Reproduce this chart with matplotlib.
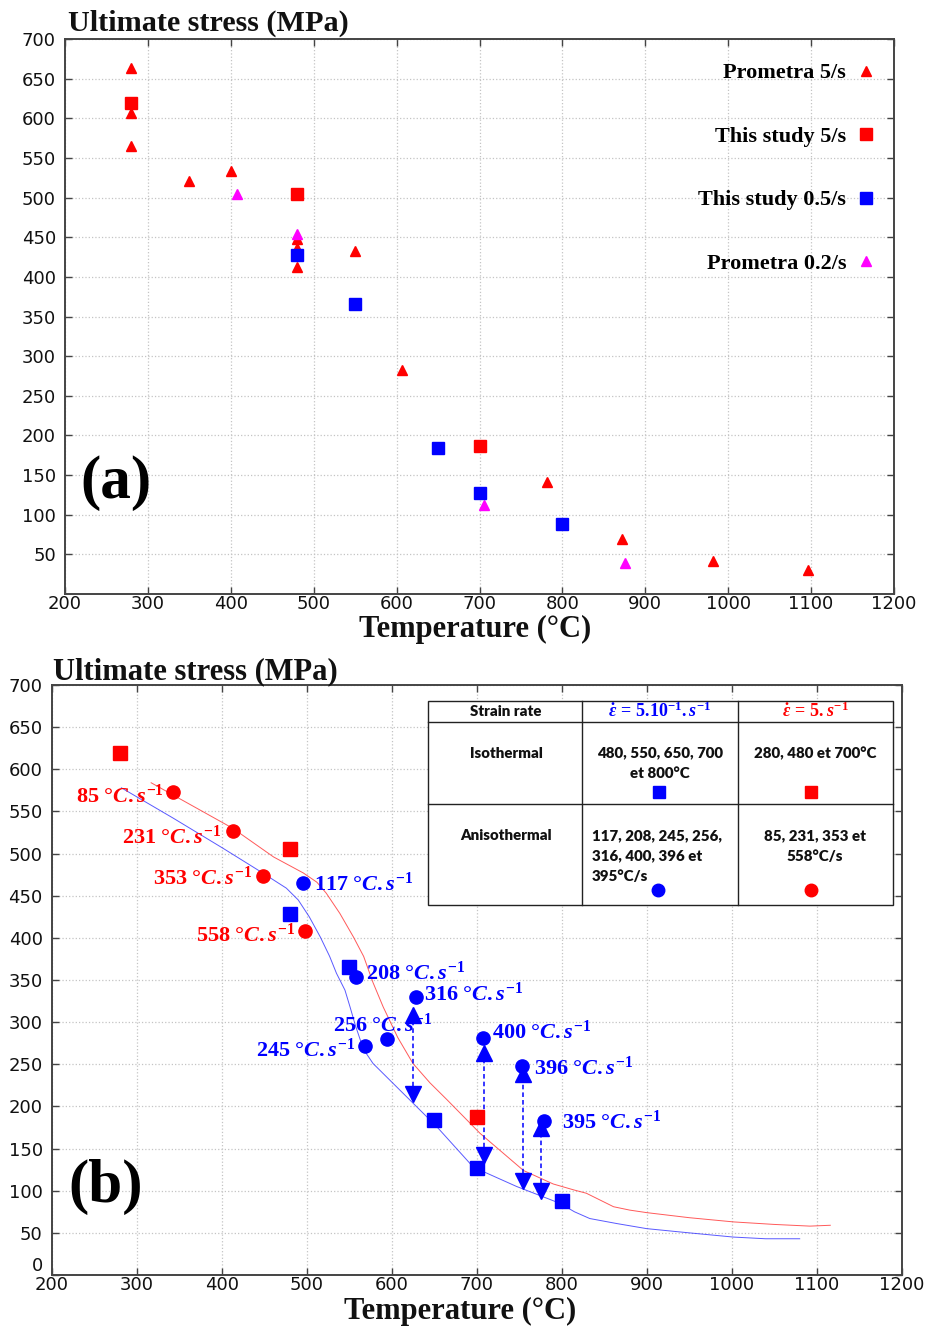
import matplotlib
matplotlib.use("Agg")
import matplotlib.pyplot as plt
from matplotlib.lines import Line2D
from matplotlib.patches import Rectangle

plt.rcParams["font.family"] = "DejaVu Sans"
plt.rcParams["mathtext.fontset"] = "custom"
plt.rcParams["mathtext.rm"] = "Liberation Serif:bold"
plt.rcParams["mathtext.it"] = "Liberation Serif:italic:bold"
plt.rcParams["mathtext.bf"] = "Liberation Serif:bold"

SERIF = "Liberation Serif"
TABLE_FONT = "Lato"
W, H = 930, 1326

# ---------------------------------------------------------------------------
# (a) ultimate stress vs temperature: Prometra data and isothermal tests
# ---------------------------------------------------------------------------
prometra5_T = [280, 280, 280, 350, 400, 480, 480, 480, 550, 606, 782, 872, 982, 1096]
prometra5_S = [663, 607, 565, 521, 534, 448, 436, 413, 432, 283, 141, 69, 42, 30]
prometra02_T = [407, 480, 706, 876]
prometra02_S = [504, 454, 112, 39]
study5_T = [280, 480, 700]
study5_S = [619, 505, 187]
study05_T = [480, 550, 650, 700, 800]
study05_S = [428, 366, 184, 127, 88]

# ---------------------------------------------------------------------------
# (b) anisothermal tests, heating rate in degC/s
# ---------------------------------------------------------------------------
aniso_red_T = [343, 413, 448, 498]
aniso_red_S = [573, 527, 473, 408]
aniso_red_rate = [85, 231, 353, 558]
aniso_blue_T = [496, 558, 628, 594, 569, 707, 753, 779]
aniso_blue_S = [465, 353, 330, 280, 272, 281, 248, 183]
aniso_blue_rate = [117, 208, 316, 256, 245, 400, 396, 395]
arrow_T = [625, 708, 754, 776]
arrow_up_S = [308, 263, 239, 174]
arrow_down_S = [215, 142, 112, 100]

model_blue_T = [282, 343, 402, 445, 476, 490, 503, 516, 527, 535, 545, 551, 557,
                563, 570, 578, 598, 625, 653, 696, 747, 798, 815, 833, 865, 900,
                950, 1002, 1040, 1080]
model_blue_S = [578, 542, 506, 479, 459, 445, 425, 401, 378, 358, 338, 318, 297,
                279, 263, 251, 231, 204, 176, 128, 105, 85, 75, 67, 61, 55,
                50, 45, 43, 43]
model_red_T = [317, 365, 413, 461, 496, 512, 523, 539, 555, 567, 578, 590, 607,
               625, 645, 665, 704, 755, 790, 814, 829, 845, 861, 880, 900, 950,
               1002, 1050, 1092, 1116]
model_red_S = [584, 557, 530, 496, 477, 466, 453, 429, 401, 378, 347, 318, 282,
               251, 228, 208, 168, 124, 108, 101, 97, 89, 81, 77, 74, 68,
               63, 60, 58, 59]

# label offsets from each point, in pixels (dx right, dy down)
red_label_offset = {85: (-9, 4, "right"), 231: (-12, 6, "right"),
                    353: (-10, 2, "right"), 558: (-10, 4, "right")}
blue_label_offset = {117: (11, 1, "left"), 208: (10, -4, "left"),
                     316: (8, -3, "left"), 256: (-54, -14, "left"),
                     245: (-10, 4, "right"), 400: (9, -6, "left"),
                     396: (12, 2, "left"), 395: (18, 1, "left")}


def fx(px):
    return px / W


def fy(py):
    return 1 - py / H


def style_axes(ax, yticks):
    ax.set_xlim(200, 1200)
    ax.set_ylim(0, 700)
    ax.set_xticks(range(200, 1201, 100))
    ax.set_yticks(yticks)
    ax.set_axisbelow(True)
    ax.grid(True, color="#c4c4c4", linestyle=":", linewidth=0.9)
    ax.tick_params(direction="in", top=True, right=True, length=5, width=1,
                   color="#444444", labelsize=13, labelcolor="#111111")
    ax.tick_params(axis="x", pad=1)
    ax.tick_params(axis="y", pad=6.5)
    for sp in ax.spines.values():
        sp.set_color("#444444")
        sp.set_linewidth(1.4)


fig = plt.figure(figsize=(W / 100, H / 100), dpi=100)

# ----------------------------- panel (a) -----------------------------------
ax1 = fig.add_axes([fx(65), fy(594), fx(894) - fx(65), fy(39) - fy(594)])
style_axes(ax1, range(50, 701, 50))
h_p5, = ax1.plot(prometra5_T, prometra5_S, ls="none", marker="^", ms=7,
                 color="#ff0000", mec="#ff0000")
h_p02, = ax1.plot(prometra02_T, prometra02_S, ls="none", marker="^", ms=7,
                  color="#ff00ff", mec="#ff00ff")
h_s5, = ax1.plot(study5_T, study5_S, ls="none", marker="s", ms=8.5,
                 color="#ff0000", mec="#ff0000")
h_s05, = ax1.plot(study05_T, study05_S, ls="none", marker="s", ms=8.5,
                  color="#0000ff", mec="#0000ff")
leg = ax1.legend([h_p5, h_s5, h_s05, h_p02],
                 ["Prometra 5/s", "This study 5/s", "This study 0.5/s", "Prometra 0.2/s"],
                 loc="upper right", bbox_to_anchor=(0.977, 0.957), frameon=False,
                 markerfirst=False, handlelength=0.8, handletextpad=0.5,
                 labelspacing=1.93, borderpad=0, borderaxespad=0,
                 prop={"family": SERIF, "weight": "bold", "size": 16})
ax1.text(0.062, 0.2, "(a)", transform=ax1.transAxes, ha="center", va="center",
         family=SERIF, weight="bold", fontsize=44)

fig.text(fx(68), fy(31), "Ultimate stress (MPa)", ha="left", va="baseline",
         family=SERIF, weight="bold", fontsize=21.7, color="#111111")
fig.text(fx(475), fy(637), "Temperature (°C)", ha="center", va="baseline",
         family=SERIF, weight="bold", fontsize=22, color="#111111")

# ----------------------------- panel (b) -----------------------------------
ax2 = fig.add_axes([fx(51.7), fy(1275), fx(901.7) - fx(51.7), fy(685) - fy(1275)])
style_axes(ax2, range(0, 701, 50))
ax2.yaxis.get_major_ticks()[0].label1.set_verticalalignment("bottom")
ax2.plot(model_red_T, model_red_S, color="#ff3030", lw=0.7, alpha=0.8)
ax2.plot(model_blue_T, model_blue_S, color="#3030ff", lw=0.7, alpha=0.8)

for t, up, down in zip(arrow_T, arrow_up_S, arrow_down_S):
    ax2.plot([t, t], [down, up], color="#0000ff", lw=1.1, ls=(0, (3, 2)))
ax2.plot(arrow_T, arrow_up_S, ls="none", marker="^", ms=11, color="#0000ff")
ax2.plot(arrow_T, arrow_down_S, ls="none", marker="v", ms=11, color="#0000ff")

ax2.plot(study5_T, study5_S, ls="none", marker="s", ms=9.5, color="#ff0000")
ax2.plot(study05_T, study05_S, ls="none", marker="s", ms=9.5, color="#0000ff")
ax2.plot(aniso_red_T, aniso_red_S, ls="none", marker="o", ms=9.5, color="#ff0000")
ax2.plot(aniso_blue_T, aniso_blue_S, ls="none", marker="o", ms=9.5, color="#0000ff")

for t, s, r in zip(aniso_red_T, aniso_red_S, aniso_red_rate):
    dx, dy, ha = red_label_offset[r]
    ax2.annotate(f"{r} °$C.s^{{-1}}$", (t, s), xytext=(dx * 0.72, -dy * 0.72),
                 textcoords="offset points", ha=ha, va="center", color="#ff0000",
                 family=SERIF, weight="bold", fontsize=16)
for t, s, r in zip(aniso_blue_T, aniso_blue_S, aniso_blue_rate):
    dx, dy, ha = blue_label_offset[r]
    ax2.annotate(f"{r} °$C.s^{{-1}}$", (t, s), xytext=(dx * 0.72, -dy * 0.72),
                 textcoords="offset points", ha=ha, va="center", color="#0000ff",
                 family=SERIF, weight="bold", fontsize=16, zorder=5)

ax2.text(0.063, 0.15, "(b)", transform=ax2.transAxes, ha="center", va="center",
         family=SERIF, weight="bold", fontsize=44)

fig.text(fx(53), fy(679), "Ultimate stress (MPa)", ha="left", va="baseline",
         family=SERIF, weight="bold", fontsize=22, color="#111111")
fig.text(fx(460), fy(1319), "Temperature (°C)", ha="center", va="baseline",
         family=SERIF, weight="bold", fontsize=22, color="#111111")

# ----------------------------- summary table --------------------------------
cols = [428, 582, 738, 893]
rows = [701, 722, 804, 905]
fig.add_artist(Rectangle((fx(cols[0]), fy(rows[-1])), fx(cols[-1]) - fx(cols[0]),
                         fy(rows[0]) - fy(rows[-1]), facecolor="white",
                         edgecolor="#222222", lw=1.0, zorder=3))
for c in cols[1:-1]:
    fig.add_artist(Line2D([fx(c), fx(c)], [fy(rows[0]), fy(rows[-1])],
                          color="#222222", lw=1.0, zorder=4))
for r in rows[1:-1]:
    fig.add_artist(Line2D([fx(cols[0]), fx(cols[-1])], [fy(r), fy(r)],
                          color="#222222", lw=1.0, zorder=4))


def cell_text(x, y, s, color="#111111", ha="center", **kw):
    fig.text(fx(x), fy(y), s, ha=ha, va="center", color=color, zorder=5, **kw)


tkw = dict(family=TABLE_FONT, weight="heavy", fontsize=10.8)
cell_text(506, 712, "Strain rate", **tkw)
cell_text(660, 711, r"$\dot{\varepsilon}\,=\,5.10^{-1}.s^{-1}$", color="#0000ff", fontsize=13)
cell_text(815, 711, r"$\dot{\varepsilon}\,=\,5.s^{-1}$", color="#ff0000", fontsize=13)
cell_text(506, 753, "Isothermal", **tkw)
cell_text(660, 753, "480, 550, 650, 700", **tkw)
cell_text(660, 773, "et 800°C", **tkw)
cell_text(815, 753, "280, 480 et 700°C", **tkw)
cell_text(506, 836, "Anisothermal", **tkw)
cell_text(592, 836, "117, 208, 245, 256,", ha="left", **tkw)
cell_text(592, 856, "316, 400, 396 et", ha="left", **tkw)
cell_text(592, 876, "395°C/s", ha="left", **tkw)
cell_text(815, 836, "85, 231, 353 et", **tkw)
cell_text(815, 856, "558°C/s", **tkw)

for x, y, m, col in [(659, 792, "s", "#0000ff"), (811, 792, "s", "#ff0000"),
                     (658, 890, "o", "#0000ff"), (811, 890, "o", "#ff0000")]:
    fig.add_artist(Line2D([fx(x)], [fy(y)], ls="none", marker=m, ms=9,
                          color=col, zorder=6))

fig.savefig("out.png", dpi=100)
